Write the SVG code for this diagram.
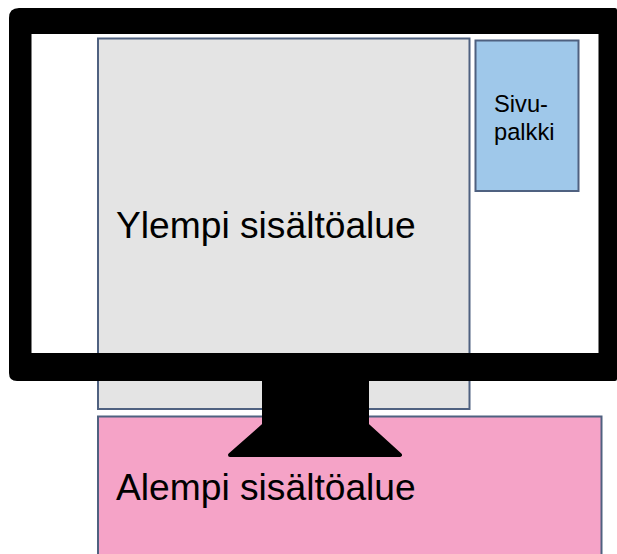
<svg xmlns="http://www.w3.org/2000/svg" width="617" height="554" viewBox="0 0 617 554">
<style>
.box{stroke:#4f6180;stroke-width:2}
text{font-family:"Liberation Sans",Arial,sans-serif;fill:#000}
.big{font-size:37.200px}
.small{font-size:23.700px}
</style>
<rect width="617" height="554" fill="#fff"/>
<g id="ylempi"><rect class="box" x="98" y="38.500" width="371.500" height="370.500" fill="#e4e4e4"/><text class="big" x="116" y="238">Ylempi sisältöalue</text></g>
<g id="sivupalkki"><rect class="box" x="475.500" y="40.500" width="103" height="150.500" fill="#9fc8ea"/><text class="small" x="494" y="112">Sivu-</text><text class="small" x="494" y="140">palkki</text></g>
<g id="alempi"><rect class="box" x="98" y="416.500" width="503.500" height="150" fill="#f5a3c7"/><text class="big" x="116" y="500">Alempi sisältöalue</text></g>
<g id="naytto">
<path fill="#000" fill-rule="evenodd" d="M19 8H615Q617 8 617 10V379Q617 381 615 381H17Q9 381 9 373V18Q9 8 19 8ZM31.500 34V353H598.500V34Z"/>
<path fill="#000" stroke="#000" stroke-width="4" stroke-linejoin="round" d="M264 381H367V425L400 455H230L264 425Z"/>
</g>
</svg>
